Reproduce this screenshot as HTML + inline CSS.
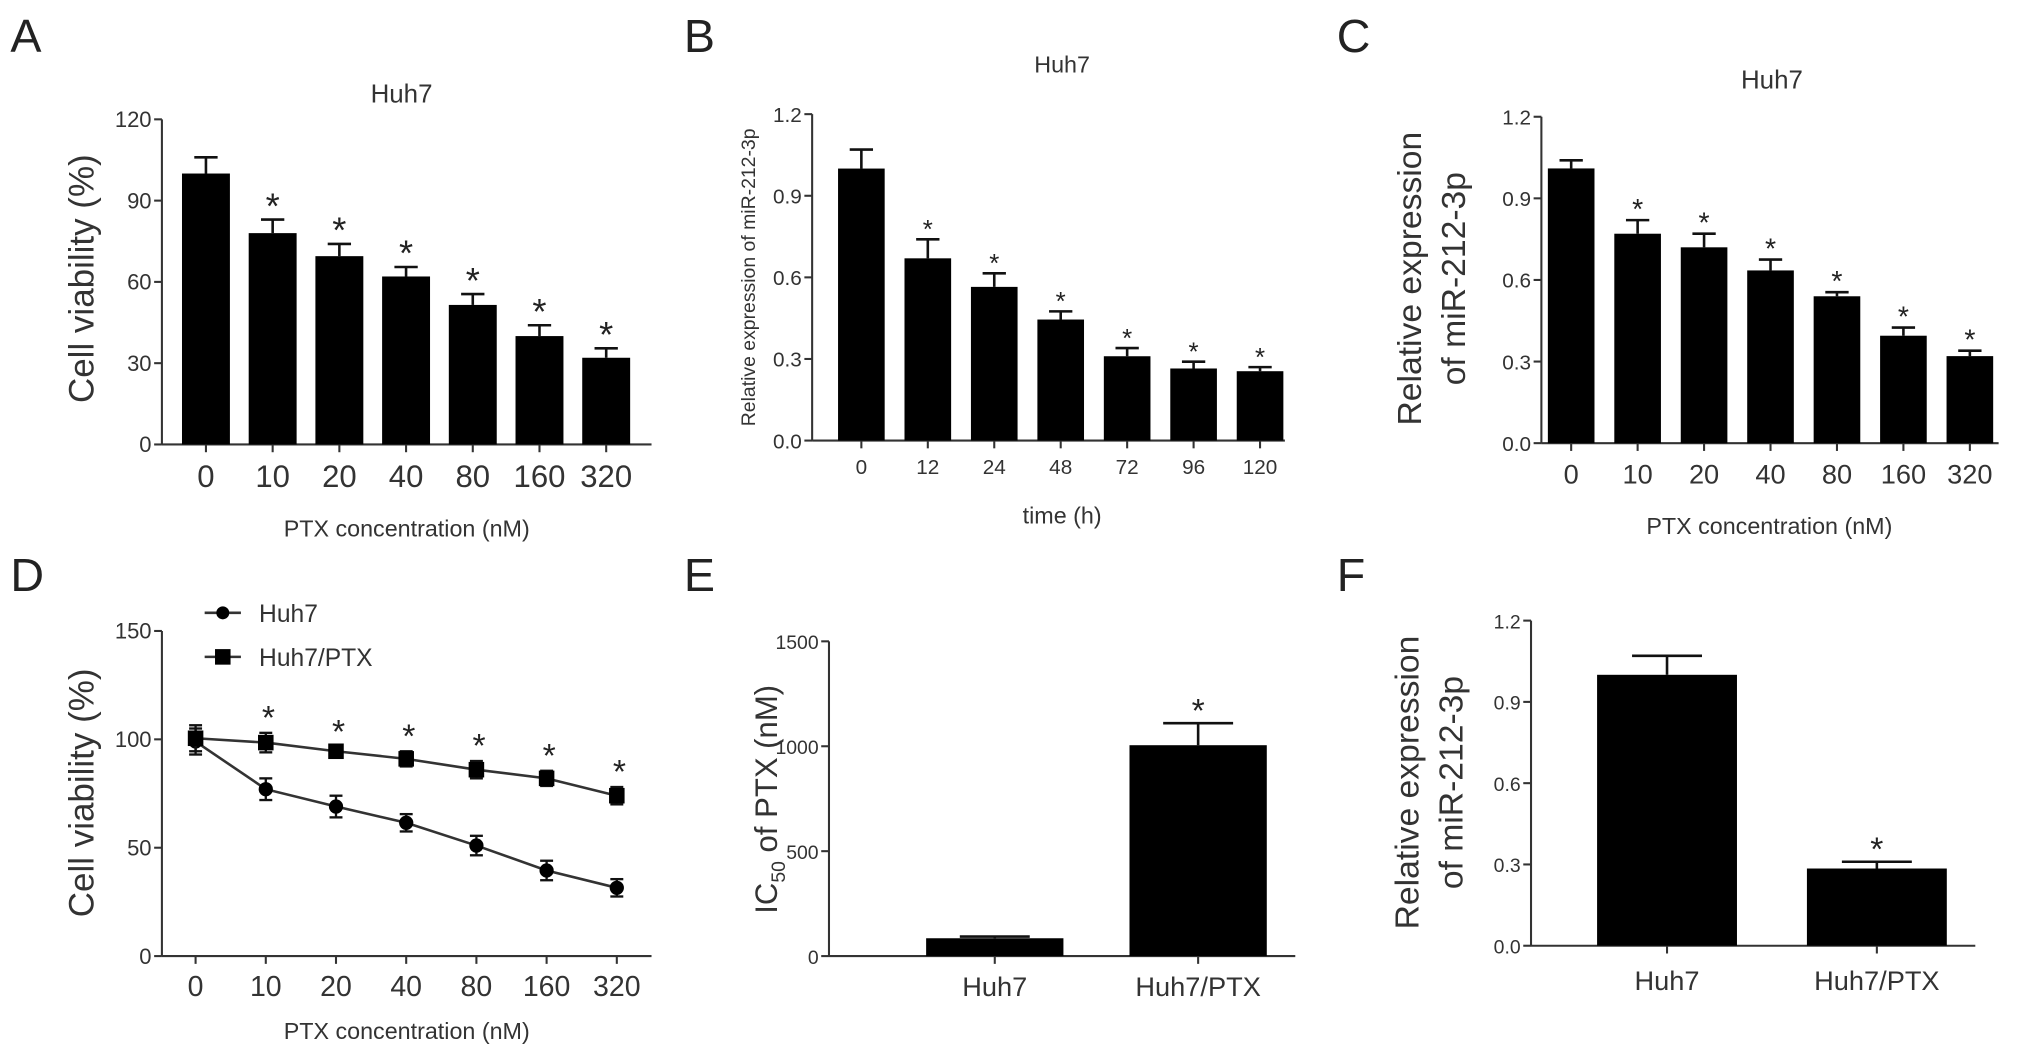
<!DOCTYPE html>
<html><head><meta charset="utf-8"><style>
html,body{margin:0;padding:0;background:#fff;}
svg{display:block;font-family:"Liberation Sans",sans-serif;}
</style></head><body>
<svg id="fig" width="2031" height="1056" viewBox="0 0 1568 815" xmlns="http://www.w3.org/2000/svg">
<g fill="#222" font-size="36">
<text x="8" y="40">A</text>
<text x="528" y="40">B</text>
<text x="1032" y="40">C</text>
<text x="8" y="456">D</text>
<text x="528" y="456">E</text>
<text x="1032" y="456">F</text>
</g>
</svg>
<script>
const concCats = ["0","10","20","40","80","160","320"];
const aVals = [100,78,69.5,62,51.5,40,32];
const aErr = [6,5,4.5,3.5,4,4,3.5];
const aSig = [false,true,true,true,true,true,true];
const aTicks = [0,30,60,90,120];
const timeCats = ["0","12","24","48","72","96","120"];
const bVals = [1.0,0.67,0.565,0.445,0.31,0.265,0.255];
const bErr = [0.07,0.07,0.05,0.03,0.03,0.025,0.015];
const bTicks = [0,0.3,0.6,0.9,1.2];
const cVals = [1.01,0.77,0.72,0.635,0.54,0.395,0.32];
const cErr = [0.03,0.05,0.05,0.04,0.015,0.03,0.02];
const cTicks = [0,0.3,0.6,0.9,1.2];
const dHuh7 = [99,77,69,61.5,51,39.5,31.5];
const dHuh7Err = [6,5,5,4,4.5,4.5,4];
const dPtx = [100.5,98.5,94.5,91,86,82,74];
const dPtxErr = [6,4.5,2,3.5,4,3.5,4];
const dTicks = [0,50,100,150];
const groupCats = ["Huh7","Huh7/PTX"];
const eVals = [85,1005];
const eErr = [8,105];
const eTicks = [0,500,1000,1500];
const fVals = [1.0,0.285];
const fErr = [0.07,0.025];
const fTicks = [0,0.3,0.6,0.9,1.2];

const svg = document.getElementById('fig');
const NS = 'http://www.w3.org/2000/svg';
function mk(tag, attrs, parent, text){
  const e = document.createElementNS(NS, tag);
  for (const k in attrs) e.setAttribute(k, attrs[k]);
  if (text !== undefined) e.textContent = text;
  (parent || svg).appendChild(e);
  return e;
}
function fmt(v, dec){ return dec ? v.toFixed(1) : String(v); }

function axes(p){
  const g = mk('g', {});
  
  
  const ys = v => p.y0 - (v / p.ymax) * (p.y0 - p.yTop);
  mk('line', {x1:p.ax, y1:p.yTop, x2:p.ax, y2:p.y0, stroke:'#333', 'stroke-width':1.6}, g);
  mk('line', {x1:p.ax, y1:p.y0, x2:p.xEnd, y2:p.y0, stroke:'#333', 'stroke-width':1.6}, g);
  p.ticks.forEach(t => {
    mk('line', {x1:p.ax-6, y1:ys(t), x2:p.ax, y2:ys(t), stroke:'#333', 'stroke-width':1.6}, g);
    const tl = mk('text', {x:p.ax-8, y:ys(t)+6, 'text-anchor':'end', 'font-size':p.tfs||17, fill:'#333'}, g, fmt(t, p.dec));
    
    
  });
  return {g, ys};
}

function barPanel(p){
  const {g, ys} = axes(p);
  p.cats.forEach((c,i) => {
    const cx = p.x0 + i*p.dx;
    mk('line', {x1:cx, y1:p.y0, x2:cx, y2:p.y0+6, stroke:'#333','stroke-width':1.6}, g);
    const xl = mk('text', {x:cx, y:p.y0+p.xlOff, 'text-anchor':'middle', 'font-size':p.xfs, fill:'#333'}, g, c);
    
    
    const top = ys(p.vals[i]), et = ys(p.vals[i] + p.err[i]);
    mk('line', {x1:cx, y1:et, x2:cx, y2:top, stroke:'#111','stroke-width':2}, g);
    mk('line', {x1:cx-p.capw, y1:et, x2:cx+p.capw, y2:et, stroke:'#111','stroke-width':2}, g);
    const b = mk('rect', {x:cx-p.bw/2, y:top, width:p.bw, height:p.y0-top, fill:'#000'}, g);
    
    
    if (p.sig[i]) {
      const s = mk('text', {x:cx, y:et - 1, 'text-anchor':'middle', 'font-size':p.starFs, fill:'#222'}, g, '*');
      
      
    }
  });
  return g;
}

barPanel({name:'panel-a', ax:125, yTop:92, y0:343, ymax:120, xEnd:503, ticks:aTicks, dec:false,
  cats:concCats, vals:aVals, err:aErr, sig:aSig, x0:159, dx:51.5, bw:37, capw:9, xfs:24, xlOff:33, starFs:28, tfs:17});
barPanel({name:'panel-b', ax:627, yTop:88, y0:340, ymax:1.2, xEnd:992, ticks:bTicks, dec:true,
  cats:timeCats, vals:bVals, err:bErr, sig:aSig, x0:665, dx:51.3, bw:36, capw:9, xfs:16, xlOff:26, starFs:20, tfs:16});
barPanel({name:'panel-c', ax:1190, yTop:90, y0:342, ymax:1.2, xEnd:1543, ticks:cTicks, dec:true,
  cats:concCats, vals:cVals, err:cErr, sig:aSig, x0:1213, dx:51.3, bw:36, capw:9, xfs:21, xlOff:31, starFs:22, tfs:16});
barPanel({name:'panel-e', ax:640, yTop:495, y0:738, ymax:1500, xEnd:1000, ticks:eTicks, dec:false,
  cats:groupCats, vals:eVals, err:eErr, sig:[false,true], x0:768, dx:157, bw:106, capw:27, xfs:21, xlOff:31, starFs:26, tfs:15});
barPanel({name:'panel-f', ax:1182, yTop:479, y0:730, ymax:1.2, xEnd:1525, ticks:fTicks, dec:true,
  cats:groupCats, vals:fVals, err:fErr, sig:[false,true], x0:1287, dx:162, bw:108, capw:27, xfs:21, xlOff:34, starFs:26, tfs:15});

(function(){
  const p = {name:'panel-d', ax:125, yTop:487, y0:738, ymax:150, xEnd:503, ticks:dTicks, dec:false, tfs:17};
  const {g, ys} = axes(p);
  const xs = i => 151 + i*54.2;
  concCats.forEach((c,i) => {
    mk('line', {x1:xs(i), y1:p.y0, x2:xs(i), y2:p.y0+6, stroke:'#333','stroke-width':1.6}, g);
    const xl = mk('text', {x:xs(i), y:p.y0+31, 'text-anchor':'middle', 'font-size':22, fill:'#333'}, g, c);
    
    
  });
  function series(vals, err, marker, nm){
    const sg = mk('g', {}, g);
    
    
    mk('polyline', {points: vals.map((v,i)=>xs(i)+','+ys(v)).join(' '), fill:'none', stroke:'#333','stroke-width':2}, sg);
    vals.forEach((v,i) => {
      const x = xs(i), t = ys(v+err[i]), b = ys(v-err[i]);
      mk('line', {x1:x, y1:t, x2:x, y2:b, stroke:'#111','stroke-width':1.8}, sg);
      mk('line', {x1:x-5, y1:t, x2:x+5, y2:t, stroke:'#111','stroke-width':1.8}, sg);
      mk('line', {x1:x-5, y1:b, x2:x+5, y2:b, stroke:'#111','stroke-width':1.8}, sg);
      if (marker==='circle') mk('circle', {cx:x, cy:ys(v), r:5.5, fill:'#000'}, sg);
      else mk('rect', {x:x-6, y:ys(v)-6, width:12, height:12, fill:'#000'}, sg);
    });
  }
  series(dHuh7, dHuh7Err, 'circle', 'series-huh7');
  series(dPtx, dPtxErr, 'square', 'series-huh7-ptx');
  dPtx.forEach((v,i) => {
    if (i===0) return;
    const s = mk('text', {x:xs(i)+2, y:ys(v+dPtxErr[i])-3, 'text-anchor':'middle', 'font-size':26, fill:'#222'}, g, '*');
    
    
  });
  const lg = mk('g', {}, g);
  
  
  mk('line', {x1:158, y1:473, x2:186, y2:473, stroke:'#333','stroke-width':2}, lg);
  mk('circle', {cx:172, cy:473, r:5, fill:'#000'}, lg);
  mk('text', {x:200, y:480, 'font-size':19, fill:'#333'}, lg, 'Huh7');
  mk('line', {x1:158, y1:507, x2:186, y2:507, stroke:'#333','stroke-width':2}, lg);
  mk('rect', {x:166, y:501, width:12, height:12, fill:'#000'}, lg);
  mk('text', {x:200, y:514, 'font-size':19, fill:'#333'}, lg, 'Huh7/PTX');
})();

function txt(attrs, s, name){
  const t = mk('text', Object.assign({fill:'#333','text-anchor':'middle'}, attrs), svg, s);
  
  
  return t;
}
txt({x:310, y:79, 'font-size':20}, 'Huh7', 'panel-a-title');
txt({x:820, y:56, 'font-size':18}, 'Huh7', 'panel-b-title');
txt({x:1368, y:68, 'font-size':20}, 'Huh7', 'panel-c-title');
txt({x:314, y:414, 'font-size':18}, 'PTX concentration (nM)', 'panel-a-x-title');
txt({x:820, y:404, 'font-size':18}, 'time (h)', 'panel-b-x-title');
txt({x:1366, y:412, 'font-size':18}, 'PTX concentration (nM)', 'panel-c-x-title');
txt({x:314, y:802, 'font-size':18}, 'PTX concentration (nM)', 'panel-d-x-title');
txt({x:0, y:0, 'font-size':27, transform:'translate(72,215) rotate(-90)'}, 'Cell viability (%)', 'panel-a-y-title');
txt({x:0, y:0, 'font-size':15, transform:'translate(583,214) rotate(-90)'}, 'Relative expression of miR-212-3p', 'panel-b-y-title');
txt({x:0, y:0, 'font-size':26, transform:'translate(1097,215) rotate(-90)'}, 'Relative expression', 'panel-c-y-title-1');
txt({x:0, y:0, 'font-size':26, transform:'translate(1131,215) rotate(-90)'}, 'of miR-212-3p', 'panel-c-y-title-2');
txt({x:0, y:0, 'font-size':27, transform:'translate(72,612) rotate(-90)'}, 'Cell viability (%)', 'panel-d-y-title');
const ic = txt({x:0, y:0, 'font-size':24, transform:'translate(600,617) rotate(-90)'}, '', 'panel-e-y-title');
ic.innerHTML = 'IC<tspan font-size="15" dy="6">50</tspan><tspan dy="-6"> of PTX (nM)</tspan>';
txt({x:0, y:0, 'font-size':26, transform:'translate(1095,604) rotate(-90)'}, 'Relative expression', 'panel-f-y-title-1');
txt({x:0, y:0, 'font-size':26, transform:'translate(1129,604) rotate(-90)'}, 'of miR-212-3p', 'panel-f-y-title-2');
</script>
</body></html>
